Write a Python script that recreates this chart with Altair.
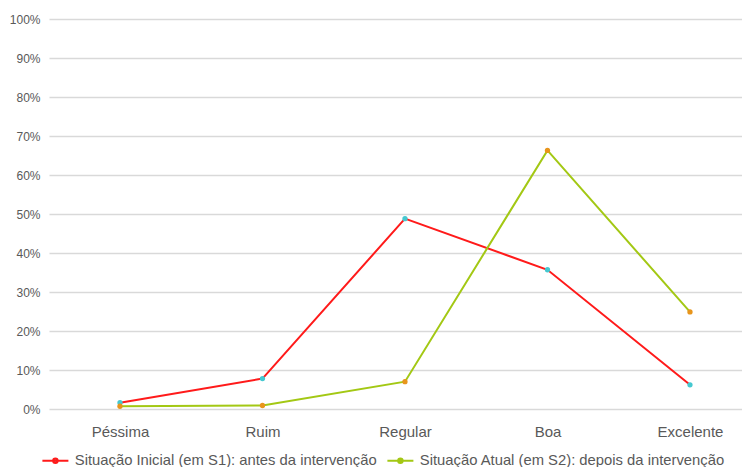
import altair as alt
import pandas as pd

categories = ["Péssima", "Ruim", "Regular", "Boa", "Excelente"]
series_names = [
    "Situação Inicial (em S1): antes da intervenção",
    "Situação Atual (em S2): depois da intervenção",
]
inicial = [0.016, 0.078, 0.488, 0.357, 0.062]
atual = [0.007, 0.009, 0.070, 0.663, 0.249]

rows = []
for c, v in zip(categories, inicial):
    rows.append({"cat": c, "serie": series_names[0], "valor": v})
for c, v in zip(categories, atual):
    rows.append({"cat": c, "serie": series_names[1], "valor": v})
df = pd.DataFrame(rows)

FONT = "Liberation Sans"
GREY = "#595959"

x_enc = alt.X("cat:N", sort=categories, title=None,
              scale=alt.Scale(type="point", padding=0.4316, align=0.577),
              axis=alt.Axis(labelAngle=0, domain=False, ticks=False, grid=False,
                            labelPadding=15, labelFontSize=15, labelColor=GREY,
                            labelFont=FONT))
y_enc = alt.Y("valor:Q", title=None,
              scale=alt.Scale(domain=[0, 1], nice=False),
              axis=alt.Axis(format=".0%", values=[i / 10 for i in range(11)],
                            domain=False, ticks=False, gridColor="#d9d9d9",
                            gridWidth=1.3, labelPadding=9, labelFontSize=12,
                            labelColor=GREY, labelFont=FONT))

legend_symbol = ("M -2.6 0 L 2.6 0 M 0.45 0 A 0.45 0.45 0 1 1 -0.45 0 "
                 "A 0.45 0.45 0 1 1 0.45 0 Z")

lines = alt.Chart(df).mark_line(strokeWidth=2).encode(
    x=x_enc, y=y_enc,
    stroke=alt.Stroke("serie:N", sort=series_names,
                      scale=alt.Scale(domain=series_names, range=["#ff1a1a", "#a3c814"]),
                      legend=alt.Legend(title=None, orient="none", direction="horizontal",
                                        legendX=-1, legendY=434,
                                        symbolType=legend_symbol, symbolSize=100,
                                        symbolStrokeWidth=2, labelFontSize=14.8,
                                        labelColor=GREY, labelFont=FONT,
                                        labelLimit=400, columnPadding=6,
                                        labelOffset=12, symbolOffset=0)),
)
points = alt.Chart(df).mark_point(filled=True, size=28, opacity=1).encode(
    x=x_enc, y=y_enc,
    fill=alt.Fill("serie:N", sort=series_names,
                  scale=alt.Scale(domain=series_names, range=["#45c8d0", "#e8951c"]),
                  legend=None),
)

chart = alt.layer(lines, points).properties(
    width=693, height=390,
    autosize=alt.AutoSizeParams(type="none"),
    padding={"left": 41, "top": 11, "right": 0, "bottom": 58},
).configure(background="white").configure_view(stroke=None)

chart.save("out.html", embed_options={"renderer": "svg", "actions": False})
